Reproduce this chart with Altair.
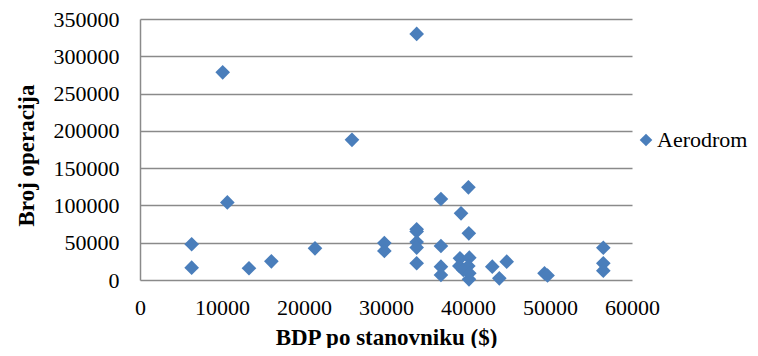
import altair as alt
import pandas as pd

bdp = [33740, 10085, 25850, 10650, 6300, 6300, 13290, 16020, 21340, 29800, 29800,
       33740, 33740, 33740, 33740, 33740, 36700, 36700, 36700, 36700,
       40050, 39150, 40100, 39020, 40160, 38940, 40040, 39430, 40160, 40120,
       42960, 44720, 43820, 49330, 49700, 56500, 56500, 56500]
operacije = [330000, 278500, 188000, 104000, 47900, 16500, 15700, 25000, 42500, 49500, 39000,
             68000, 65000, 51000, 43500, 22500, 108600, 45600, 17900, 6700,
             124300, 89400, 62600, 29100, 29900, 18800, 18800, 13400, 9000, 900,
             17900, 24600, 2200, 9000, 6000, 43300, 22300, 12500]
serija = "Aerodrom"
x_ticks = [0, 10000, 20000, 30000, 40000, 50000, 60000]
y_ticks = [0, 50000, 100000, 150000, 200000, 250000, 300000, 350000]

df = pd.DataFrame({"BDP": bdp, "Operacije": operacije, "Serija": [serija] * len(bdp)})

FONT = "Times New Roman, Liberation Serif, serif"
GRID = "#8a8a8a"

chart = alt.Chart(df).mark_point(shape="diamond", filled=True, size=215, opacity=1).encode(
    x=alt.X("BDP:Q",
            scale=alt.Scale(domain=[0, 60000], nice=False),
            axis=alt.Axis(title="BDP po stanovniku ($)", values=x_ticks,
                          format="d", grid=False, domain=False, ticks=False, tickSize=0,
                          labelFlush=False, labelOverlap=False,
                          labelFont=FONT, labelFontSize=22, labelFontWeight="normal",
                          labelColor="black", labelPadding=17,
                          titleFont=FONT, titleFontSize=23, titleFontWeight="bold", titleColor="black",
                          titleX=246, titleY=64, titleBaseline="alphabetic", titleAlign="center")),
    y=alt.Y("Operacije:Q",
            scale=alt.Scale(domain=[0, 350000], nice=False),
            axis=alt.Axis(title="Broj operacija", values=y_ticks,
                          format="d", grid=True, gridColor=GRID, gridWidth=1.5,
                          domain=True, domainColor=GRID, domainWidth=1.5, ticks=False, tickSize=0,
                          labelFlush=False, labelOverlap=False,
                          labelFont=FONT, labelFontSize=22, labelFontWeight="normal",
                          labelColor="black", labelPadding=21,
                          titleFont=FONT, titleFontSize=23, titleFontWeight="bold", titleColor="black",
                          titleX=-114, titleY=136, titleAngle=270, titleBaseline="middle", titleAlign="center")),
    color=alt.Color("Serija:N", scale=alt.Scale(range=["#4A7EBB"]),
                    legend=alt.Legend(title=None, orient="none", legendX=495, legendY=110,
                                      symbolType="diamond", symbolSize=160, symbolOpacity=1,
                                      labelFont=FONT, labelFontSize=22, labelFontWeight="normal",
                                      labelColor="black", labelOffset=0, padding=0)),
).properties(
    width=492, height=261,
    autosize=alt.AutoSizeParams(type="none"),
    padding={"left": 132, "top": 11, "right": 118, "bottom": 68},
).configure(font=FONT).configure_view(stroke=None)

chart.save("out.html", embed_options={"renderer": "svg", "actions": False})
